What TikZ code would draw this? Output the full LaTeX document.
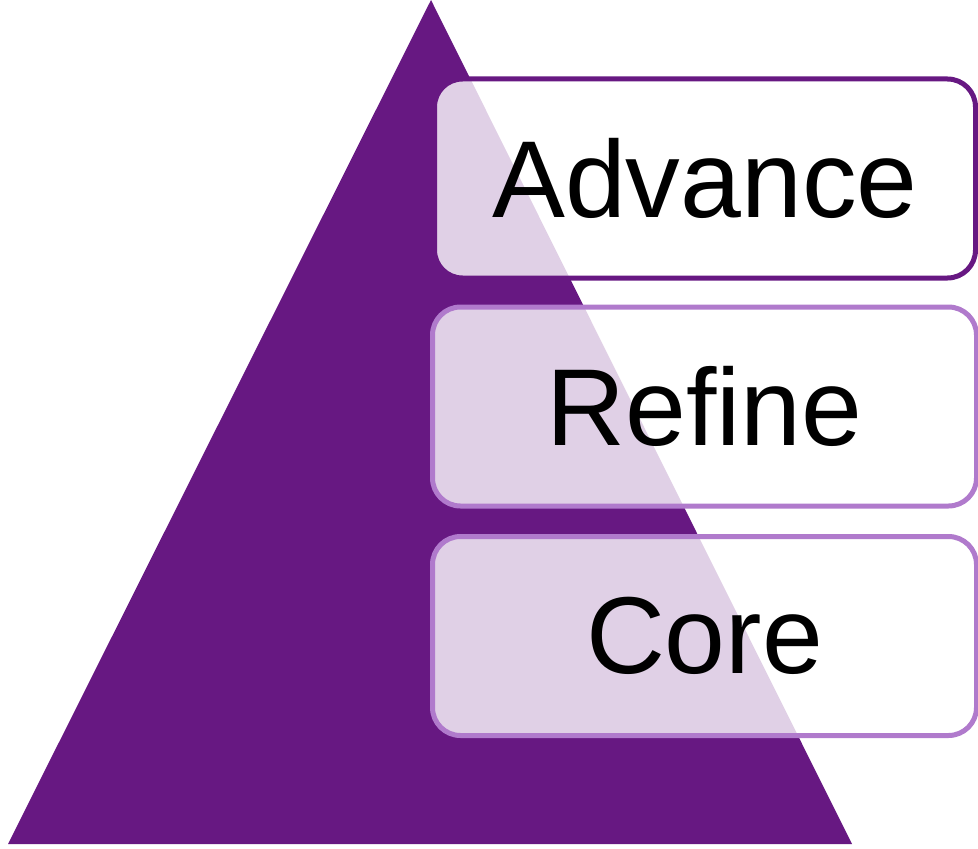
\documentclass[tikz,border=0pt]{standalone}
\usepackage{fontspec}
\setmainfont{Liberation Sans}
\usetikzlibrary{positioning}

\definecolor{pyrpurple}{HTML}{671882}
\definecolor{pyrlilac}{HTML}{B07ACC}

\begin{document}
\begin{tikzpicture}[
    x=0.75pt, y=-0.75pt,
    % Pyramid and level boxes
    pyramid/.style={fill=pyrpurple},
    level/.style={rectangle, rounded corners=21pt, line width=3.75pt,
                  fill=white, fill opacity=0.8, text opacity=1,
                  minimum height=149.25pt, align=center,
                  font=\fontsize{82}{88}\selectfont, text=black},
    top/.style={level, draw=pyrpurple, minimum width=405.75pt},
    lower/.style={level, draw=pyrlilac, minimum width=408pt}
]

% Canvas
\path[use as bounding box] (0,0) rectangle (978,849);

% Pyramid
\fill[pyramid] (431,0) -- (852,844) -- (8,844) -- cycle;

% Levels
\node[top] (advance) at (705,178.5) {Advance};
\node[lower] (refine) at (704.5,406.5) {Refine};
\node[lower] (core) at (704.5,636) {Core};

\end{tikzpicture}
\end{document}
